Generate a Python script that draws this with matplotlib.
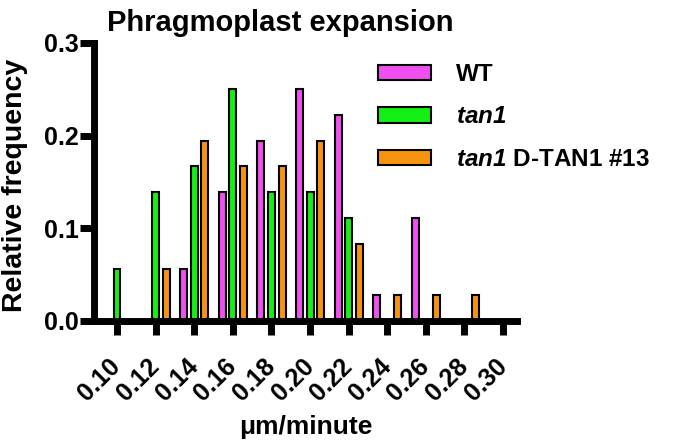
import numpy as np
import matplotlib
matplotlib.use("Agg")
import matplotlib.pyplot as plt

plt.rcParams["font.family"] = ["Liberation Sans", "DejaVu Sans"]
plt.rcParams["font.weight"] = "bold"
plt.rcParams["mathtext.fontset"] = "custom"
plt.rcParams["mathtext.sf"] = "Liberation Sans:italic:bold"
plt.rcParams["mathtext.rm"] = "Liberation Sans:bold"

# bin centres (um/minute) and relative frequencies
bins = [0.10, 0.12, 0.14, 0.16, 0.18, 0.20, 0.22, 0.24, 0.26, 0.28, 0.30]
wt = [0.0, 0.0, 0.056, 0.139, 0.194, 0.25, 0.222, 0.028, 0.111, 0.0, 0.0]
tan1 = [0.056, 0.139, 0.167, 0.25, 0.139, 0.139, 0.111, 0.0, 0.0, 0.0, 0.0]
tan1_dtan1 = [0.0, 0.056, 0.194, 0.167, 0.167, 0.194, 0.083, 0.028, 0.028, 0.028, 0.0]
tick_labels = ["0.10", "0.12", "0.14", "0.16", "0.18", "0.20", "0.22", "0.24", "0.26", "0.28", "0.30"]

fig = plt.figure(figsize=(6.77, 4.42), dpi=100)
ax = fig.add_axes([0.1389, 0.2738, 0.625, 0.629])

x = np.array(bins)
w = 0.0036
off = 0.0055
series = [(wt, "#f050f0", "WT", -off),
          (tan1, "#14f014", "$\\mathsf{tan1}$", 0.0),
          (tan1_dtan1, "#f7940f", "$\\mathsf{tan1}$ D-TAN1 #13", off)]
for vals, col, lab, dx in series:
    v = np.array(vals)
    m = v > 0
    ax.bar(x[m] + dx, v[m], width=w, color=col, edgecolor="black", linewidth=1.5, label=lab)

ax.set_xlim(0.0881, 0.3073)
ax.set_ylim(0, 0.3)
ax.set_xticks(bins)
ax.set_xticklabels(tick_labels, rotation=45, ha="right", va="center", rotation_mode="anchor",
                   fontsize=18, fontweight="bold")
ax.set_yticks([0.0, 0.1, 0.2, 0.3])
ax.set_yticklabels(["0.0", "0.1", "0.2", "0.3"], fontsize=18, fontweight="bold")
for s in ["top", "right"]:
    ax.spines[s].set_visible(False)
for s in ["left", "bottom"]:
    ax.spines[s].set_linewidth(5)
    ax.spines[s].set_capstyle("projecting")
ax.tick_params(width=5, length=10, direction="out")
ax.tick_params(axis="y", pad=1)
ax.tick_params(axis="x", pad=20)

fig.text(280 / 677, 1 - 31 / 442, "Phragmoplast expansion", fontsize=21, fontweight="bold",
         ha="center", va="baseline")
ax.set_ylabel("Relative frequency", fontsize=20.5, fontweight="bold")
ax.yaxis.set_label_coords(-0.156, 0.487)
ax.set_xlabel("\u03bcm/minute", fontsize=19, fontweight="bold", labelpad=7)

leg = fig.legend(loc="upper left", bbox_to_anchor=(378 / 677, 1 - 63 / 442), frameon=False,
                 fontsize=17.5, handlelength=2.2, handleheight=0.6, handletextpad=1.0,
                 labelspacing=0.8, borderpad=0, borderaxespad=0)
for t in leg.get_texts():
    t.set_fontweight("bold")

fig.savefig("out.png", dpi=100)
